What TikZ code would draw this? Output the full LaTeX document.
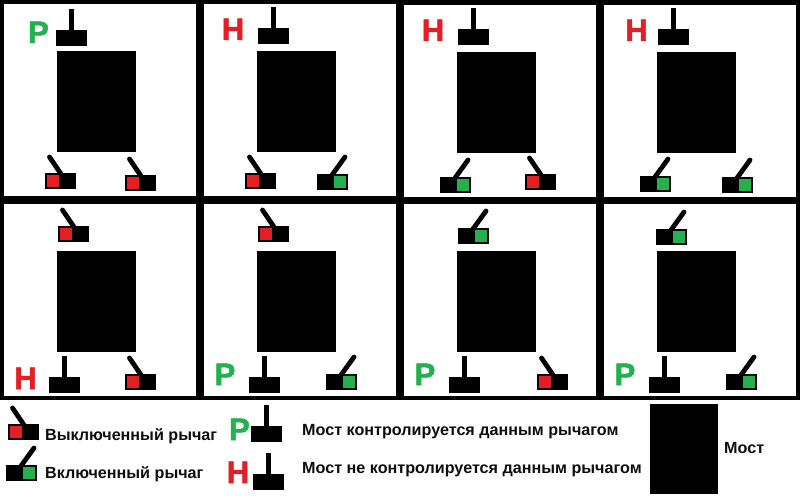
\documentclass[tikz,border=0pt]{standalone}
\usepackage{fontspec}
\setmainfont{Liberation Sans}
\newfontfamily\modefont[FakeBold=1.6]{Liberation Sans Bold}
\definecolor{lred}{HTML}{E31F26}
\definecolor{lgreen}{HTML}{22B14C}
\tikzset{
  panel/.style={fill=white},
  bridge/.style={fill=black},
  basebar/.style={fill=black},
  stem/.style={line width=4.8pt,black},
  tiltstem/.style={line width=4.8pt,black,line cap=round},
  lamp/.style={fill=#1},
  caption/.style={anchor=base west,inner sep=0pt,font=\bfseries\fontsize{16.15}{18}\selectfont,text=black!95},
  modeP/.style={anchor=base,inner sep=0pt,font=\modefont\fontsize{31}{32}\selectfont,text=lgreen},
  modeH/.style={anchor=base,inner sep=0pt,font=\modefont\fontsize{31}{32}\selectfont,text=lred},
}
\newcommand{\leverN}[2]{%
  \fill[basebar] (#1,#2) rectangle +(31,16);
  \draw[stem] (#1+15.5,#2+0.5) -- (#1+15.5,#2-21);}
\newcommand{\leverOff}[2]{%
  \draw[tiltstem] (#1+16,#2+1) -- (#1+4.5,#2-16);
  \fill[basebar] (#1,#2) rectangle +(31,16);
  \fill[lamp=lred] (#1+2,#2+2) rectangle +(12.3,12);}
\newcommand{\leverOn}[2]{%
  \draw[tiltstem] (#1+15,#2+1) -- (#1+28,#2-17);
  \fill[basebar] (#1,#2) rectangle +(31,16);
  \fill[lamp=lgreen] (#1+17,#2+2) rectangle +(12.3,12);}
\begin{document}
\begin{tikzpicture}[x=1pt,y=-1pt]
\useasboundingbox (0,0) rectangle (800,500);
\fill[white] (0,0) rectangle (800,500);
\fill[black] (0,0) rectangle (800,399.5);
% upper row: the two right panels sit one pixel lower
\foreach \px/\py in {4/4,204/4,404/5,604/5,4/204,204/204,404/204,604/204}{
  \fill[panel] (\px,\py) rectangle +(192,192);
}
\foreach \bx/\by in {57/51,257/51,457/52,657/52,57/251,257/251,457/251,657/251}{
  \fill[bridge] (\bx,\by) rectangle +(79,101);
}
% panel 1
\leverN{56}{30} \leverOff{45}{173} \leverOff{125}{175}
\node[modeP] (m1) at (38.5,43) {P};
% panel 2
\leverN{258}{28} \leverOff{245}{173} \leverOn{317}{174}
\node[modeH] (m2) at (233,40) {H};
% panel 3
\leverN{458}{29} \leverOn{440}{177} \leverOff{525}{174}
\node[modeH] (m3) at (433,41) {H};
% panel 4
\leverN{658}{29} \leverOn{640}{176} \leverOn{722}{177}
\node[modeH] (m4) at (636.5,41) {H};
% panel 5
\leverOff{58}{226} \leverN{49}{377} \leverOff{125}{374}
\node[modeH] (m5) at (25.5,389) {H};
% panel 6
\leverOff{258}{226} \leverN{249}{377} \leverOn{326}{374}
\node[modeP] (m6) at (225,385) {P};
% panel 7
\leverOn{458}{228} \leverN{449}{377} \leverOff{537}{374}
\node[modeP] (m7) at (425,385) {P};
% panel 8
\leverOn{656}{229} \leverN{649}{377} \leverOn{726}{374}
\node[modeP] (m8) at (625,385) {P};
% legend
\leverOff{8}{424} \leverOn{6}{465}
\leverN{251}{426} \leverN{253}{474}
\node[modeP] (lp) at (239.5,440) {P};
\node[modeH] (lh) at (238,483) {H};
\fill[bridge] (650,404) rectangle (718,494);
\node[caption] (c1) at (45,440) {Выключенный рычаг};
\node[caption] (c2) at (45,478) {Включенный рычаг};
\node[caption] (c3) at (302,435) {Мост контролируется данным рычагом};
\node[caption] (c4) at (302,473) {Мост не контролируется данным рычагом};
\node[caption] (c5) at (724,453) {Мост};
\end{tikzpicture}
\end{document}
